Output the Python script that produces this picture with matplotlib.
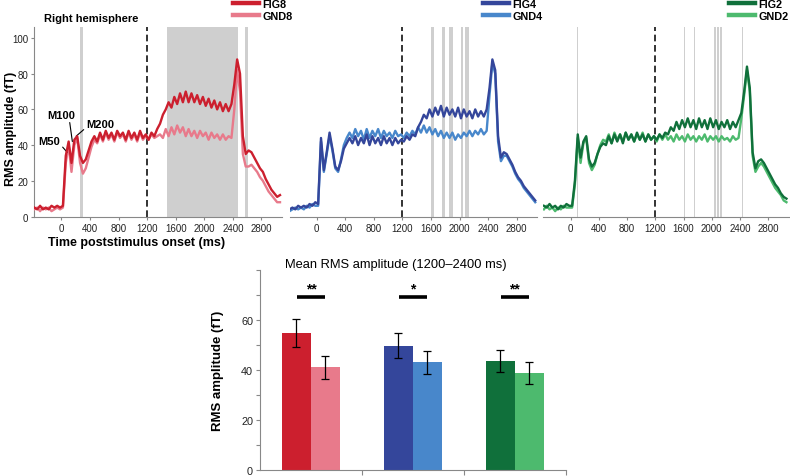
import numpy as np
import matplotlib
matplotlib.use("Agg")
import matplotlib.pyplot as plt
from matplotlib.lines import Line2D

plt.rcParams['font.family'] = ['Liberation Sans', 'DejaVu Sans']

# ---------------- data ----------------
times = np.arange(-380, 3100, 40)  # ms, sampling grid of the traces

fig8 = [5, 4, 6, 4, 5, 4, 6, 5, 6, 5,
        6, 34, 42, 30, 43, 45, 34, 30, 32, 37, 42, 45,
        42, 47, 43, 48, 44, 47, 43, 48, 45, 47, 43, 48, 44, 47, 43, 48, 44, 46,
        43, 47, 45, 49, 52, 57, 60, 64, 61, 67, 63, 69, 64, 70, 64, 69, 64, 68, 63, 67,
        62, 66, 61, 65, 60, 64, 59, 63, 59, 63,
        74, 88, 80, 45, 35, 37, 36, 33, 30, 27, 25, 21, 18, 15, 13, 11, 12]
gnd8 = [4, 5, 3, 5, 4, 5, 3, 4, 5, 4,
        5, 30, 40, 25, 40, 44, 30, 24, 27, 33, 39, 43,
        41, 46, 42, 47, 43, 46, 42, 47, 44, 46, 42, 47, 43, 46, 42, 47, 43, 45,
        43, 46, 44, 45, 46, 44, 49, 45, 50, 46, 51, 47, 50, 45, 49, 45, 48, 44, 48, 45,
        47, 43, 47, 44, 46, 43, 46, 43, 45, 44,
        60, 82, 70, 35, 28, 28, 29, 27, 25, 22, 20, 17, 14, 12, 10, 8, 8]
fig4 = [4, 5, 4, 6, 5, 6, 5, 7, 6, 8,
        7, 44, 26, 36, 47, 38, 28, 26, 31, 38, 41, 44,
        41, 45, 40, 44, 41, 46, 40, 45, 41, 44, 40, 45, 41, 44, 40, 44, 41, 43,
        42, 45, 43, 46, 45, 50, 53, 57, 55, 60, 56, 61, 57, 62, 56, 61, 57, 60, 56, 61,
        55, 60, 56, 59, 55, 60, 56, 59, 56, 60,
        72, 88, 82, 45, 33, 36, 35, 32, 29, 25, 22, 20, 17, 15, 13, 11, 9]
gnd4 = [3, 4, 5, 4, 5, 4, 6, 5, 7, 6,
        6, 42, 25, 35, 45, 37, 27, 25, 32, 40, 44, 47,
        44, 49, 45, 48, 43, 49, 44, 48, 45, 49, 44, 48, 45, 47, 44, 48, 45, 46,
        44, 47, 45, 48, 46, 50, 47, 51, 47, 50, 46, 49, 45, 48, 44, 47, 44, 47, 43, 46,
        44, 47, 45, 48, 45, 48, 46, 49, 46, 48,
        68, 86, 80, 42, 31, 34, 34, 31, 28, 24, 21, 19, 16, 14, 12, 10, 8]
fig2 = [6, 5, 7, 5, 6, 4, 6, 5, 7, 6,
        6, 20, 46, 33, 42, 45, 32, 28, 30, 35, 39, 41,
        40, 45, 41, 46, 42, 46, 41, 47, 43, 46, 42, 47, 43, 46, 42, 46, 43, 45,
        43, 46, 44, 47, 46, 50, 48, 53, 49, 54, 50, 55, 50, 54, 49, 55, 50, 54, 49, 55,
        50, 54, 49, 53, 50, 54, 49, 53, 50, 54,
        58, 70, 84, 72, 36, 27, 31, 32, 30, 27, 24, 21, 18, 16, 13, 11, 10]
gnd2 = [4, 6, 4, 5, 3, 5, 4, 6, 5, 5,
        5, 18, 44, 30, 41, 44, 30, 26, 29, 35, 40, 43,
        42, 46, 41, 47, 43, 46, 42, 47, 43, 46, 42, 46, 43, 47, 42, 46, 43, 45,
        42, 46, 43, 46, 43, 45, 42, 46, 43, 45, 42, 46, 43, 45, 42, 45, 43, 46, 42, 45,
        43, 45, 42, 45, 43, 44, 42, 45, 43, 44,
        55, 68, 82, 70, 34, 25, 28, 30, 28, 25, 22, 19, 16, 14, 12, 9, 8]

# significant time windows (ms)
sig8 = [(259, 305), (1478, 2471), (2570, 2616)]
sig4 = [(1597, 1643), (1755, 1801), (1853, 1913), (2020, 2053), (2076, 2132)]
sig2 = [(93, 106), (1609, 1623), (1751, 1768), (2030, 2060), (2072, 2100), (2112, 2139), (2430, 2445)]

# bar chart
bar_groups = ['8', '4', '2']
fig_means = [54.8, 49.7, 43.6]
fig_err = [5.7, 5.0, 4.3]
gnd_means = [41.0, 43.1, 38.7]
gnd_err = [4.4, 4.5, 4.3]
sig_stars = ['**', '*', '**']

col_fig = ['#cc1f2e', '#34469b', '#10703b']
col_gnd = ['#e87a8b', '#4887cb', '#4dba6e']

# ---------------- figure ----------------
W, H = 790, 477
fig = plt.figure(figsize=(W / 100, H / 100), dpi=100)


def fr(l, t, r, b):
    return [l / W, (H - b) / H, (r - l) / W, (b - t) / H]


panel_px = [(34, 282, (-385, 3088)), (290, 537, (-374, 3085)), (542.7, 789, (-397, 3096))]
series = [(fig8, gnd8, sig8, 'FIG8', 'GND8'),
          (fig4, gnd4, sig4, 'FIG4', 'GND4'),
          (fig2, gnd2, sig2, 'FIG2', 'GND2')]
legend_x = [233, 483, 729]
axcol = '#888888'

axes = []
for k, ((l, r, xl), (fs, gs, sig, lf, lg)) in enumerate(zip(panel_px, series)):
    ax = fig.add_axes(fr(l, 28.3, r, 217.5))
    axes.append(ax)
    for a, b in sig:
        ax.axvspan(a, b, color='#cfcfcf', lw=0, zorder=1)
    ax.axvline(1200, color='#111111', lw=1.2, ls=(0, (4, 2.2)), zorder=2)
    ax.plot(times, gs, color=col_gnd[k], lw=1.7, zorder=3)
    ax.plot(times, fs, color=col_fig[k], lw=1.7, zorder=4)
    ax.set_xlim(*xl)
    ax.set_ylim(0, 106)
    ax.set_xticks([0, 400, 800, 1200, 1600, 2000, 2400, 2800])
    ax.tick_params(axis='x', length=2, color=axcol, labelsize=7, pad=3, labelcolor='#222222')
    for t in ax.get_xticklabels():
        t.set_family(['Liberation Sans Narrow', 'Liberation Sans'])
    for s in ['top', 'right']:
        ax.spines[s].set_visible(False)
    ax.spines['bottom'].set_color(axcol)
    ax.spines['left'].set_color(axcol)
    if k == 0:
        ax.set_yticks([0, 20, 40, 60, 80, 100])
        ax.tick_params(axis='y', length=2, color=axcol, labelsize=7, pad=2, labelcolor='#222222')
    else:
        ax.spines['left'].set_visible(False)
        ax.set_yticks([])
    handles = [Line2D([], [], color=col_fig[k], lw=3.2), Line2D([], [], color=col_gnd[k], lw=3.2)]
    ax.legend(handles, [lf, lg], loc='upper left', bbox_to_anchor=(legend_x[k] / W, 1 - 0 / H),
              bbox_transform=fig.transFigure, frameon=False, borderpad=0, borderaxespad=0,
              handlelength=2.4, handletextpad=0.3, labelspacing=0.15,
              prop={'weight': 'bold', 'size': 7.8})

ax1 = axes[0]
fig.text(44 / W, 1 - 19 / H, 'Right hemisphere', fontsize=8, fontweight='bold', va='center', ha='left')
fig.text(11 / W, 1 - 129 / H, 'RMS amplitude (fT)', fontsize=9, fontweight='bold', rotation=90,
         va='center', ha='center')
fig.text(137 / W, 1 - 243 / H, 'Time poststimulus onset (ms)', fontsize=9, fontweight='bold',
         va='center', ha='center')

ann = dict(fontsize=8, fontweight='bold', ha='center', va='center')
ax1.annotate('M50', xy=(80, 36), xytext=(-175, 42.3),
             arrowprops=dict(arrowstyle='-', lw=0.8, color='black', relpos=(1, 0.2), shrinkA=0, shrinkB=0), **ann)
ax1.annotate('M100', xy=(152, 42), xytext=(-7, 57),
             arrowprops=dict(arrowstyle='-', lw=0.8, color='black', relpos=(0.8, 0), shrinkA=0, shrinkB=0), **ann)
ax1.annotate('M200', xy=(205, 45), xytext=(546, 51.7),
             arrowprops=dict(arrowstyle='-', lw=0.8, color='black', relpos=(0, 0.2), shrinkA=0, shrinkB=0), **ann)

# ---------------- bar chart ----------------
bx = fig.add_axes(fr(260, 270.8, 565.7, 471.2))
x = np.arange(len(bar_groups))
bw = 0.285
bx.bar(x - bw / 2, fig_means, bw, color=col_fig, zorder=2)
bx.bar(x + bw / 2, gnd_means, bw, color=col_gnd, zorder=2)
bx.errorbar(x - bw / 2, fig_means, yerr=fig_err, fmt='none', ecolor='black', elinewidth=0.9, capsize=2.6, capthick=0.9, zorder=3)
bx.errorbar(x + bw / 2, gnd_means, yerr=gnd_err, fmt='none', ecolor='black', elinewidth=0.9, capsize=2.6, capthick=0.9, zorder=3)
for i, s in enumerate(sig_stars):
    bx.plot([x[i] - 0.135, x[i] + 0.135], [69, 69], color='black', lw=2.6, solid_capstyle='butt')
    bx.text(x[i], 69.6, s, ha='center', va='bottom', fontsize=10, fontweight='bold')
bx.set_xlim(-0.5, 2.5)
bx.set_ylim(0, 80)
bx.set_yticks(np.arange(0, 81, 10))
bx.set_yticklabels(['0', '', '20', '', '40', '', '60', '', ''])
bx.set_xticks([0.5, 1.5, 2.5])
bx.set_xticklabels([])
bx.tick_params(axis='y', length=3, color=axcol, labelsize=7.8, pad=2, labelcolor='#222222')
bx.tick_params(axis='x', length=3.5, color=axcol)
for s in ['top', 'right']:
    bx.spines[s].set_visible(False)
bx.spines['left'].set_color(axcol)
bx.spines['bottom'].set_color(axcol)
bx.set_ylabel('RMS amplitude (fT)', fontsize=9.5, fontweight='bold', labelpad=12)
fig.text(396 / W, 1 - 265 / H, 'Mean RMS amplitude (1200\u20132400 ms)', fontsize=9.3,
         ha='center', va='center')

fig.savefig('out.png', dpi=100)
